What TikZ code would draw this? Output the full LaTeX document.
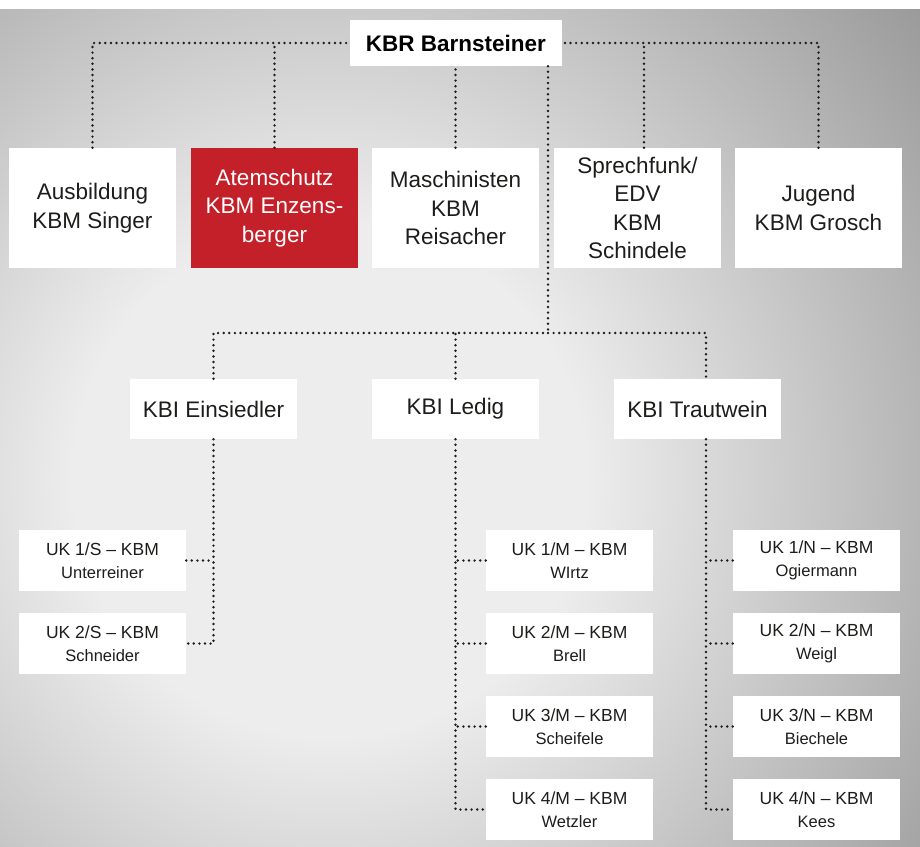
\documentclass[tikz,border=0pt]{standalone}
\usepackage{fontspec}
\setmainfont{Liberation Sans}
\definecolor{bgA}{RGB}{237,237,237}
\definecolor{bgB}{RGB}{147,147,147}
\definecolor{boxred}{HTML}{C4202A}
\definecolor{ink}{HTML}{1D1D1B}
\pgfdeclareradialshading{bgshade}{\pgfpointorigin}{color(0bp)=(bgA); color(8bp)=(bgA); color(25bp)=(bgB); color(50bp)=(bgB)}
\begin{document}
\begin{tikzpicture}[x=1pt,y=-1pt,
  dotline/.style={draw=ink, line width=2.7pt, line cap=round, dash pattern=on 0pt off 5.6pt},
  topbox/.style={fill=white, text=ink, inner sep=0pt, minimum width=167pt, minimum height=120pt, align=center, font=\fontsize{22.5}{28.5}\selectfont},
  kbibox/.style={fill=white, text=ink, inner sep=0pt, minimum width=167pt, minimum height=60pt, align=center, font=\fontsize{22.5}{28.5}\selectfont},
  ukbox/.style={fill=white, text=ink, inner sep=0pt, minimum width=167pt, minimum height=61pt, align=center, font=\fontsize{17.5}{23}\selectfont}
]
\useasboundingbox (0,0) rectangle (920,846);
\fill[white] (0,0) rectangle (920,9);
\begin{scope}
  \clip (0,9) rectangle (920,846);
  \shade[shading=bgshade] (330,480) circle (800);
\end{scope}

% nodes
\node[fill=white, text=black, inner sep=0pt, minimum width=212pt, minimum height=46pt, font=\fontsize{22.5}{28.5}\selectfont\bfseries] (kbr) at (456,43) {KBR Barnsteiner};

\node[topbox] (ausb) at (92.5,208) {Ausbildung\\KBM Singer};
\node[topbox, fill=boxred, text=white] (atem) at (274.5,208) {Atemschutz\\KBM Enzens-\\berger};
\node[topbox] (masch) at (455.5,208) {Maschinisten\\KBM\\Reisacher};
\node[topbox] (sprech) at (637.5,208) {Sprechfunk/\\EDV\\KBM\\Schindele};
\node[topbox] (jug) at (818.5,208) {Jugend\\KBM Grosch};

\node[kbibox] (einz) at (213.5,409) {KBI Einsiedler};
\node[kbibox] (ledig) at (455.5,409) {KBI Ledig};
\node[kbibox] (traut) at (697.5,409) {KBI Trautwein};

\node[ukbox] (s1) at (102.5,560.5) {UK 1/S – KBM\\{\fontsize{16.5}{23}\selectfont Unterreiner}};
\node[ukbox] (s2) at (102.5,643.5) {UK 2/S – KBM\\{\fontsize{16.5}{23}\selectfont Schneider}};

\node[ukbox] (m1) at (569.5,560.5) {UK 1/M – KBM\\{\fontsize{16.5}{23}\selectfont WIrtz}};
\node[ukbox] (m2) at (569.5,643.5) {UK 2/M – KBM\\{\fontsize{16.5}{23}\selectfont Brell}};
\node[ukbox] (m3) at (569.5,726.5) {UK 3/M – KBM\\{\fontsize{16.5}{23}\selectfont Scheifele}};
\node[ukbox] (m4) at (569.5,809.5) {UK 4/M – KBM\\{\fontsize{16.5}{23}\selectfont Wetzler}};

\node[ukbox] (n1) at (816.5,560.5) {UK 1/N – KBM\\{\fontsize{16.5}{23}\selectfont Ogiermann}};
\node[ukbox] (n2) at (816.5,643.5) {UK 2/N – KBM\\{\fontsize{16.5}{23}\selectfont Weigl}};
\node[ukbox] (n3) at (816.5,726.5) {UK 3/N – KBM\\{\fontsize{16.5}{23}\selectfont Biechele}};
\node[ukbox] (n4) at (816.5,809.5) {UK 4/N – KBM\\{\fontsize{16.5}{23}\selectfont Kees}};

% helper coordinates
\coordinate (hub) at (548,333);
\coordinate (sprechN) at ([xshift=6.5pt]sprech.north);
\coordinate (trautN) at ([xshift=8.5pt]traut.north);
\coordinate (trautS) at ([xshift=8.5pt]traut.south);

% top connectors
\draw[dotline] (ausb.north) |- (kbr.west);
\draw[dotline] (atem.north) -- (atem.north |- kbr.west);
\draw[dotline] (masch.north) -- (masch.north |- kbr.south);
\draw[dotline] (jug.north) |- (kbr.east);
\draw[dotline] (sprechN) -- (sprechN |- kbr.east);

% main trunk
\draw[dotline] (kbr.south -| hub) -- (hub);
\draw[dotline] (einz.north) |- (hub);
\draw[dotline] (hub) -| (trautN);
\draw[dotline] (ledig.north) -- (ledig.north |- hub);

% lower connectors
\draw[dotline] (einz.south) |- (s2.east);
\draw[dotline] (s1.east) -- (s1.east -| einz.south);

\draw[dotline] (ledig.south) |- (m4.west);
\draw[dotline] (m1.west) -- (m1.west -| ledig.south);
\draw[dotline] (m2.west) -- (m2.west -| ledig.south);
\draw[dotline] (m3.west) -- (m3.west -| ledig.south);

\draw[dotline] (trautS) |- (n4.west);
\draw[dotline] (n1.west) -- (n1.west -| trautS);
\draw[dotline] (n2.west) -- (n2.west -| trautS);
\draw[dotline] (n3.west) -- (n3.west -| trautS);
\end{tikzpicture}
\end{document}
